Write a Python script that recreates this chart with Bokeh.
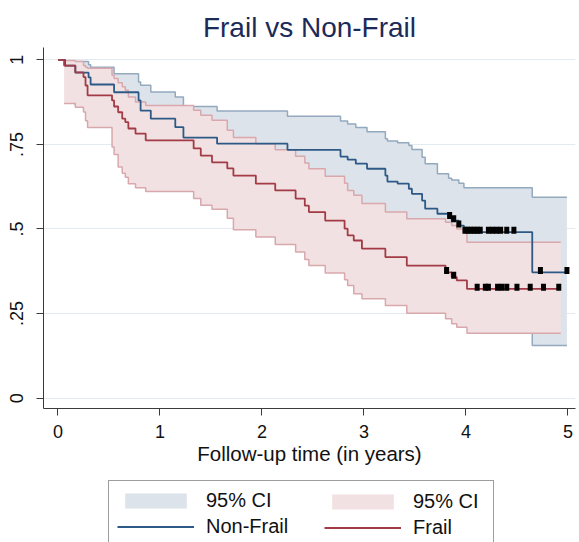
import numpy as np
from bokeh.plotting import figure
from bokeh.layouts import column
from bokeh.models import Legend, LegendItem, FixedTicker, Range1d
from bokeh.core.properties import value
from bokeh.embed import file_html
from bokeh.resources import INLINE

# ---------------- data ----------------
# Frail Kaplan-Meier estimate (time in years, survival)
frail_t = [0, 0.06, 0.17, 0.25, 0.27, 0.29, 0.53, 0.55, 0.59, 0.63, 0.66, 0.69, 0.76, 0.86,
           1.33, 1.40, 1.51, 1.66, 1.72, 1.94, 2.13, 2.33, 2.42, 2.46, 2.62, 2.81, 2.84, 2.90,
           2.98, 3.21, 3.42, 3.80, 3.86, 3.91, 4.01, 4.93]
frail_s = [1, 0.983, 0.963, 0.949, 0.924, 0.895, 0.880, 0.862, 0.845, 0.826, 0.816, 0.797, 0.782, 0.762,
           0.738, 0.717, 0.697, 0.679, 0.658, 0.634, 0.614, 0.590, 0.569, 0.550, 0.525, 0.501, 0.481, 0.466,
           0.442, 0.417, 0.392, 0.372, 0.358, 0.348, 0.323, 0.323]
# Frail 95% CI (from first event on)
frail_lo = [0.871, 0.860, 0.846, 0.820, 0.800, 0.742, 0.720, 0.683, 0.665, 0.653, 0.634, 0.622, 0.611,
            0.590, 0.570, 0.558, 0.532, 0.498, 0.476, 0.454, 0.432, 0.410, 0.392, 0.370, 0.350, 0.333, 0.309,
            0.294, 0.274, 0.251, 0.235, 0.220, 0.210, 0.192, 0.192]
frail_hi = [0.998, 0.995, 0.983, 0.978, 0.975, 0.954, 0.945, 0.932, 0.920, 0.910, 0.890, 0.875, 0.865,
            0.851, 0.836, 0.821, 0.792, 0.770, 0.752, 0.734, 0.715, 0.695, 0.678, 0.656, 0.635, 0.614, 0.600,
            0.575, 0.550, 0.530, 0.520, 0.510, 0.500, 0.461, 0.461]
frail_cens = [3.81, 3.88, 4.11, 4.19, 4.22, 4.31, 4.35, 4.40, 4.50, 4.63, 4.76, 4.91]

# Non-Frail Kaplan-Meier estimate
nf_t = [0, 0.07, 0.17, 0.30, 0.32, 0.55, 0.79, 0.81, 0.91, 1.15, 1.23, 1.56, 2.25, 2.77, 2.84, 2.92,
        3.03, 3.21, 3.23, 3.33, 3.44, 3.47, 3.57, 3.60, 3.72, 3.83, 3.86, 3.93, 3.98, 4.65, 4.99]
nf_s = [1, 0.983, 0.962, 0.948, 0.927, 0.904, 0.880, 0.850, 0.826, 0.801, 0.770, 0.752, 0.734, 0.714, 0.705, 0.693,
        0.678, 0.658, 0.640, 0.634, 0.619, 0.604, 0.584, 0.560, 0.545, 0.535, 0.525, 0.510, 0.491, 0.372, 0.372]
nf_lo = [0.885, 0.865, 0.845, 0.815, 0.785, 0.755, 0.720, 0.690, 0.660, 0.630, 0.610, 0.590, 0.565, 0.555, 0.545,
         0.530, 0.510, 0.490, 0.485, 0.470, 0.455, 0.435, 0.410, 0.395, 0.385, 0.375, 0.360, 0.345, 0.156, 0.156]
nf_hi = [0.997, 0.995, 0.985, 0.978, 0.959, 0.934, 0.925, 0.905, 0.890, 0.862, 0.849, 0.833, 0.819, 0.810, 0.800,
         0.787, 0.767, 0.760, 0.755, 0.747, 0.735, 0.712, 0.693, 0.663, 0.650, 0.645, 0.635, 0.622, 0.594, 0.594]
nf_cens = [3.84, 3.88, 3.93, 3.99, 4.02, 4.05, 4.08, 4.11, 4.14, 4.22, 4.26, 4.30, 4.34, 4.40, 4.47, 4.73, 4.99]

x_ticks = [0, 1, 2, 3, 4, 5]
y_ticks = [0, 0.25, 0.5, 0.75, 1]
y_tick_labels = ["0", ".25", ".5", ".75", "1"]

title_text = "Frail vs Non-Frail"
x_label = "Follow-up time (in years)"
ci_label = "95% CI"
nf_label = "Non-Frail"
fr_label = "Frail"

# ---------------- style ----------------
FONT = "Liberation Sans"
NF_LINE = "#2c5985"
FR_LINE = "#a23b45"
NF_FILL = "#dde3ea"
NF_EDGE = "#93a9be"
FR_FILL = "#f1e1e2"
FR_EDGE = "#d9a8ad"
AX = "#3a3a3a"

W = 579
p = figure(width=W, height=470, output_backend="svg", toolbar_location=None,
           x_range=Range1d(-0.142, 5.074), y_range=Range1d(-0.0304, 1.0363),
           min_border_left=43, min_border_right=4, min_border_top=47, min_border_bottom=62)
p.outline_line_color = None
p.background_fill_color = "white"
p.border_fill_color = "white"

p.title.text = title_text
p.title.align = "center"
p.title.text_font = FONT
p.title.text_font_size = "28px"
p.title.text_font_style = "normal"
p.title.text_color = "#1c2a58"
p.title.standoff = 10


def draw_group(fig, t, lo, hi, fill, edge):
    band = fig.varea_step(x=t[1:], y1=lo, y2=hi, step_mode="after", fill_color=fill)
    fig.step(t[1:], hi, mode="after", line_color=edge, line_width=1.5)
    fig.step(t[1:], lo, mode="after", line_color=edge, line_width=1.5)
    return band


# bands (Non-Frail first, Frail drawn over it)
nf_band = draw_group(p, nf_t, nf_lo, nf_hi, NF_FILL, NF_EDGE)
fr_band = draw_group(p, frail_t, frail_lo, frail_hi, FR_FILL, FR_EDGE)

# KM lines
nf_line = p.step(nf_t, nf_s, mode="after", line_color=NF_LINE, line_width=1.8)
fr_line = p.step(frail_t, frail_s, mode="after", line_color=FR_LINE, line_width=1.8)


# censor marks at the step value
def at(ts, ss, c):
    ts = np.asarray(ts); ss = np.asarray(ss)
    idx = np.searchsorted(ts, c, side="right") - 1
    return ss[idx]


lift = 0.005
nf_cy = at(nf_t, nf_s, np.asarray(nf_cens)) + lift
fr_cy = at(frail_t, frail_s, np.asarray(frail_cens)) + lift
p.rect(x=nf_cens, y=nf_cy, width=5, height=7, width_units="screen", height_units="screen",
       fill_color="black", line_color=None)
p.rect(x=frail_cens, y=fr_cy, width=5, height=7, width_units="screen", height_units="screen",
       fill_color="black", line_color=None)

# axes
p.xaxis.ticker = FixedTicker(ticks=x_ticks)
p.yaxis.ticker = FixedTicker(ticks=y_ticks)
p.yaxis.major_label_overrides = {t: l for t, l in zip(y_ticks, y_tick_labels)}
p.yaxis.major_label_orientation = "vertical"
p.xaxis.axis_label = x_label
for ax in (p.xaxis[0], p.yaxis[0]):
    ax.axis_line_color = AX
    ax.major_tick_line_color = AX
    ax.minor_tick_line_color = None
    ax.major_tick_in = 0
    ax.major_tick_out = 7
    ax.major_label_text_font = FONT
    ax.major_label_text_font_size = "18px"
    ax.major_label_text_color = "#111111"
    ax.axis_label_text_font = FONT
    ax.axis_label_text_font_size = "20.5px"
    ax.axis_label_text_font_style = "normal"
    ax.axis_label_text_color = "#111111"
p.xaxis.major_label_standoff = 9
p.xaxis.axis_label_standoff = 1
p.yaxis.major_label_standoff = 13
p.xgrid.grid_line_color = None
p.ygrid.grid_line_color = "#e4ebf0"
p.ygrid.grid_line_width = 1

# ---------------- legend strip (own figure, same glyph styles) ----------------
lg = figure(width=W, height=72, output_backend="svg", toolbar_location=None,
            x_range=Range1d(10, 20), y_range=Range1d(10, 20),
            x_axis_location=None, y_axis_location=None,
            min_border_left=0, min_border_right=0, min_border_top=0, min_border_bottom=0)
lg.outline_line_color = None
lg.xgrid.grid_line_color = None
lg.ygrid.grid_line_color = None
lg.background_fill_color = "white"
lg.border_fill_color = "white"
# proxies drawn from the same data (outside this strip's view)
lg_nf_band = lg.varea_step(x=nf_t[1:], y1=nf_lo, y2=nf_hi, step_mode="after", fill_color=NF_FILL)
lg_fr_band = lg.varea_step(x=frail_t[1:], y1=frail_lo, y2=frail_hi, step_mode="after", fill_color=FR_FILL)
lg_nf_line = lg.step(nf_t, nf_s, mode="after", line_color=NF_LINE, line_width=2)
lg_fr_line = lg.step(frail_t, frail_s, mode="after", line_color=FR_LINE, line_width=2)

common = dict(glyph_width=77, glyph_height=19, label_standoff=12, padding=8, spacing=3, margin=0,
              label_text_font=FONT, label_text_font_size="20px", label_text_color="#111111")
leg1 = Legend(items=[LegendItem(label=value(ci_label), renderers=[lg_nf_band]),
                     LegendItem(label=value(nf_label), renderers=[lg_nf_line])],
              location=(65, -5), label_width=279,
              border_line_color="#3c3c3c", border_line_width=1.2,
              background_fill_color="white", background_fill_alpha=1, **common)
leg2 = Legend(items=[LegendItem(label=value(ci_label), renderers=[lg_fr_band]),
                     LegendItem(label=value(fr_label), renderers=[lg_fr_line])],
              location=(273, -5), border_line_alpha=0, background_fill_alpha=0, **common)
lg.add_layout(leg1)
lg.add_layout(leg2)

layout = column(p, lg, spacing=0)
open("out.html", "w").write(file_html(layout, INLINE))
